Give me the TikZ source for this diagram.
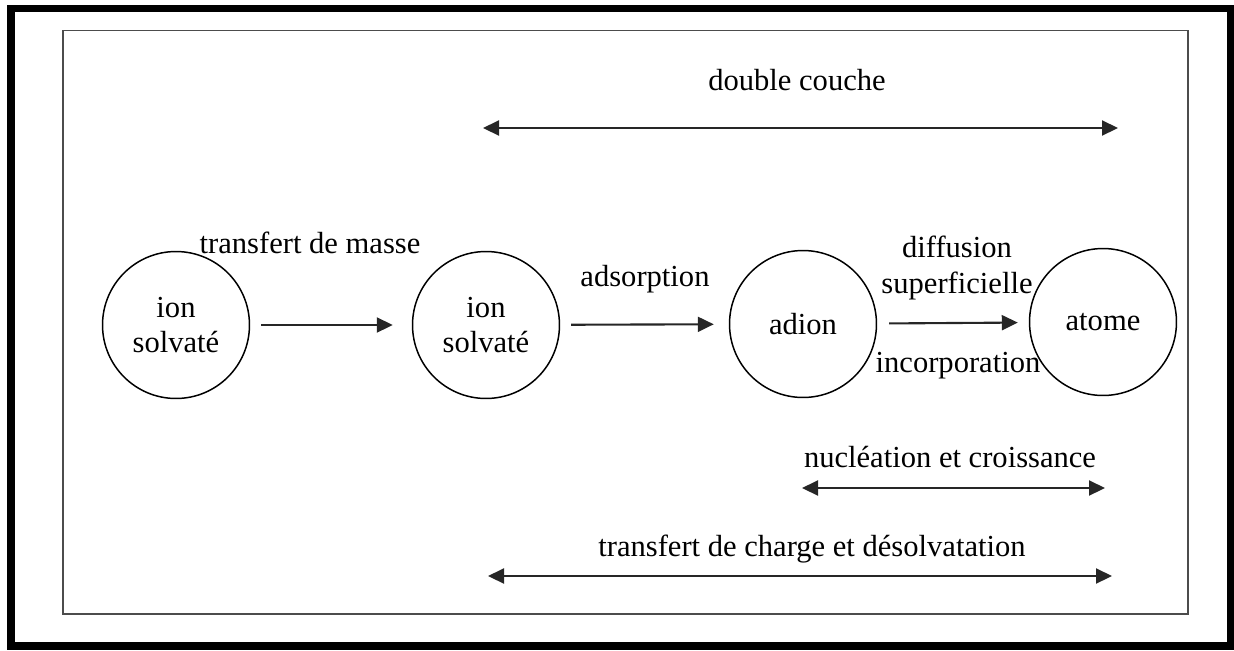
\documentclass[tikz,border=0pt]{standalone}
\usepackage{fontspec}
\setmainfont{Liberation Serif}
\usepackage{tikz}
\usetikzlibrary{arrows.meta, positioning}

\begin{document}
\begin{tikzpicture}[x=0.02cm, y=-0.02cm,
    state/.style={draw, circle, line width=0.85pt, minimum size=2.94cm, inner sep=0pt, align=center},
    lbl/.style={inner sep=0pt, align=center},
    flow/.style={-{Triangle[length=0.32cm, width=0.3cm]}, line width=1.2pt, draw=black!85},
    span/.style={{Triangle[length=0.32cm, width=0.3cm]}-{Triangle[length=0.32cm, width=0.3cm]}, line width=1.2pt, draw=black!85},
    every node/.style={font=\fontsize{17.4}{20}\selectfont}]
  \useasboundingbox (0,0) rectangle (1234,650);

  % frames
  \draw[line width=4.5pt] (11,8.5) rectangle (1230.5,646);
  \draw[line width=1.1pt, black!70] (63,30.5) rectangle (1188,614);

  % states
  \node[state] (ion1) at (176,325) {ion\\solvaté};
  \node[state] (ion2) at (486,325) {ion\\solvaté};
  \node[state] (adion) at (803,324) {adion};
  \node[state] (atome) at (1103,322) {atome};

  % steps
  \draw[flow, shorten <=0.22cm, shorten >=0.38cm] (ion1) -- (ion2);
  \draw[flow, shorten <=0.22cm, shorten >=0.3cm] (ion2) -- (adion);
  \draw[flow, shorten <=0.24cm, shorten >=0.22cm] (adion) -- (atome);

  \node[lbl] (masse) at (310,243) {transfert de masse};
  \node[lbl] (adsorp) at (645,279) {adsorption};
  \node[lbl] (diffus) at (957,268) {diffusion\\superficielle};
  \node[lbl] (incorp) at (958,366) {incorporation};

  % domains
  \coordinate (dcL) at (483,128);
  \coordinate (dcR) at (1118,128);
  \draw[span] (dcL) -- (dcR);
  \node[lbl] (dc) at (797,80) {double couche};

  \coordinate (ncL) at (802,488);
  \coordinate (ncR) at (1105,488);
  \draw[span] (ncL) -- (ncR);
  \node[lbl] (nc) at (950,457) {nucléation et croissance};

  \coordinate (tcL) at (488,576);
  \coordinate (tcR) at (1112,576);
  \draw[span] (tcL) -- (tcR);
  \node[lbl] (tc) at (812,549) {transfert de charge et désolvatation};
\end{tikzpicture}
\end{document}
